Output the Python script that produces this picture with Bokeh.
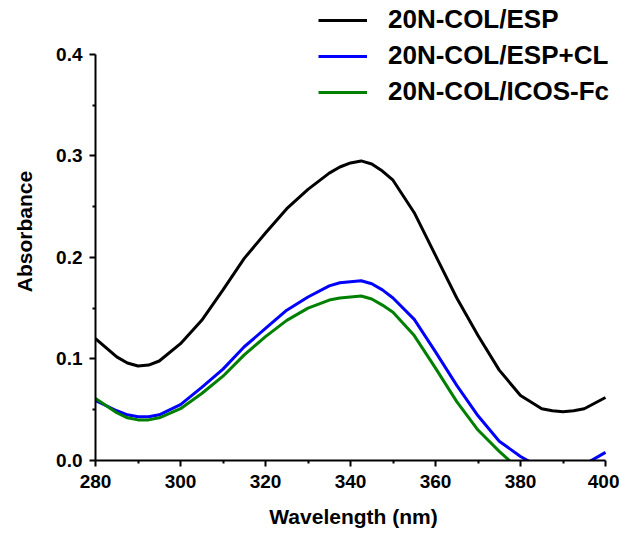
from bokeh.plotting import figure
from bokeh.models import FixedTicker, Legend, LegendItem, NumeralTickFormatter
from bokeh.embed import file_html
from bokeh.resources import INLINE

wavelength = [280, 285, 287.5, 290, 292.5, 295, 300, 305, 310, 315, 320, 325, 330, 335, 337.5, 340, 342.5,
              345, 347.5, 350, 355, 360, 365, 370, 375, 380, 385, 387.5, 390, 392.5, 395, 400]
esp = [0.120, 0.102, 0.096, 0.093, 0.094, 0.098, 0.115, 0.138, 0.168, 0.199, 0.224, 0.248, 0.267, 0.283, 0.289, 0.293, 0.295,
       0.292, 0.285, 0.276, 0.244, 0.202, 0.160, 0.123, 0.089, 0.064, 0.051, 0.049, 0.048, 0.049, 0.051, 0.062]
esp_cl = [0.059, 0.049, 0.045, 0.043, 0.043, 0.045, 0.055, 0.072, 0.090, 0.112, 0.130, 0.148, 0.161, 0.172, 0.175, 0.176, 0.177,
          0.174, 0.168, 0.160, 0.139, 0.107, 0.074, 0.044, 0.019, 0.004, -0.008, -0.011, -0.012, -0.010, -0.004, 0.008]
icos = [0.061, 0.047, 0.042, 0.040, 0.040, 0.042, 0.051, 0.066, 0.083, 0.104, 0.122, 0.138, 0.150, 0.158, 0.160, 0.161, 0.162,
        0.159, 0.153, 0.146, 0.123, 0.091, 0.058, 0.030, 0.009, -0.010, -0.020, -0.022, -0.024, -0.023, -0.020, -0.010]

names = ["20N-COL/ESP", "20N-COL/ESP+CL", "20N-COL/ICOS-Fc"]
colors = ["#000000", "#0000ff", "#008000"]

x_major = [280, 300, 320, 340, 360, 380, 400]
x_minor = [290, 310, 330, 350, 370, 390]
x_axis_bounds = (280, 400)
y_major = [0.0, 0.1, 0.2, 0.3, 0.4]
y_minor = [0.05, 0.15, 0.25, 0.35]
y_axis_bounds = (0.0, 0.4)

FONT = "Liberation Sans"

# frame extends beyond the axis ends so the legend has room (axes limited by bounds)
y_end = 0.4 * 460 / 408
x_end = 280 + 120 * 516 / 510

p = figure(width=619, height=530, x_range=(280, x_end), y_range=(0, y_end),
           output_backend="svg", toolbar_location=None,
           min_border_left=95, min_border_right=8, min_border_top=2, min_border_bottom=68)
p.outline_line_color = None
p.xgrid.visible = False
p.ygrid.visible = False

renderers = []
for ys, c in zip([esp, esp_cl, icos], colors):
    r = p.line(wavelength, ys, line_color=c, line_width=3)
    renderers.append(r)

for ax in (p.xaxis[0], p.yaxis[0]):
    ax.axis_line_width = 2
    ax.major_tick_line_width = 2
    ax.minor_tick_line_width = 2
    ax.major_tick_out = 6
    ax.major_tick_in = 0
    ax.minor_tick_out = 3
    ax.minor_tick_in = 0
    ax.major_label_text_font = FONT
    ax.major_label_text_font_style = "bold"
    ax.major_label_text_font_size = "19px"
    ax.major_label_text_color = "#000000"
    ax.axis_label_text_font = FONT
    ax.axis_label_text_font_style = "bold"
    ax.axis_label_text_font_size = "21px"
    ax.axis_label_text_color = "#000000"

p.xaxis.ticker = FixedTicker(ticks=x_major, minor_ticks=x_minor)
p.yaxis.ticker = FixedTicker(ticks=y_major, minor_ticks=y_minor)
p.xaxis.bounds = x_axis_bounds
p.yaxis.bounds = y_axis_bounds
p.yaxis.formatter = NumeralTickFormatter(format="0.0")
p.xaxis.axis_label = "Wavelength (nm)"
p.yaxis.axis_label = "Absorbance"
p.xaxis.major_label_standoff = 8
p.yaxis.major_label_standoff = 7
p.xaxis.axis_label_standoff = 14
p.yaxis.axis_label_standoff = 17

legend = Legend(items=[LegendItem(label=n, renderers=[r]) for n, r in zip(names, renderers)],
                location=(223, 353), orientation="vertical")
legend.border_line_color = None
legend.background_fill_alpha = 0
legend.padding = 0
legend.margin = 0
legend.spacing = 5
legend.glyph_width = 49
legend.glyph_height = 20
legend.label_height = 20
legend.label_standoff = 21
legend.label_text_font = FONT
legend.label_text_font_style = "bold"
legend.label_text_font_size = "26px"
legend.label_text_color = "#000000"
legend.label_text_baseline = "middle"
p.add_layout(legend)

open("out.html", "w").write(file_html(p, INLINE))
